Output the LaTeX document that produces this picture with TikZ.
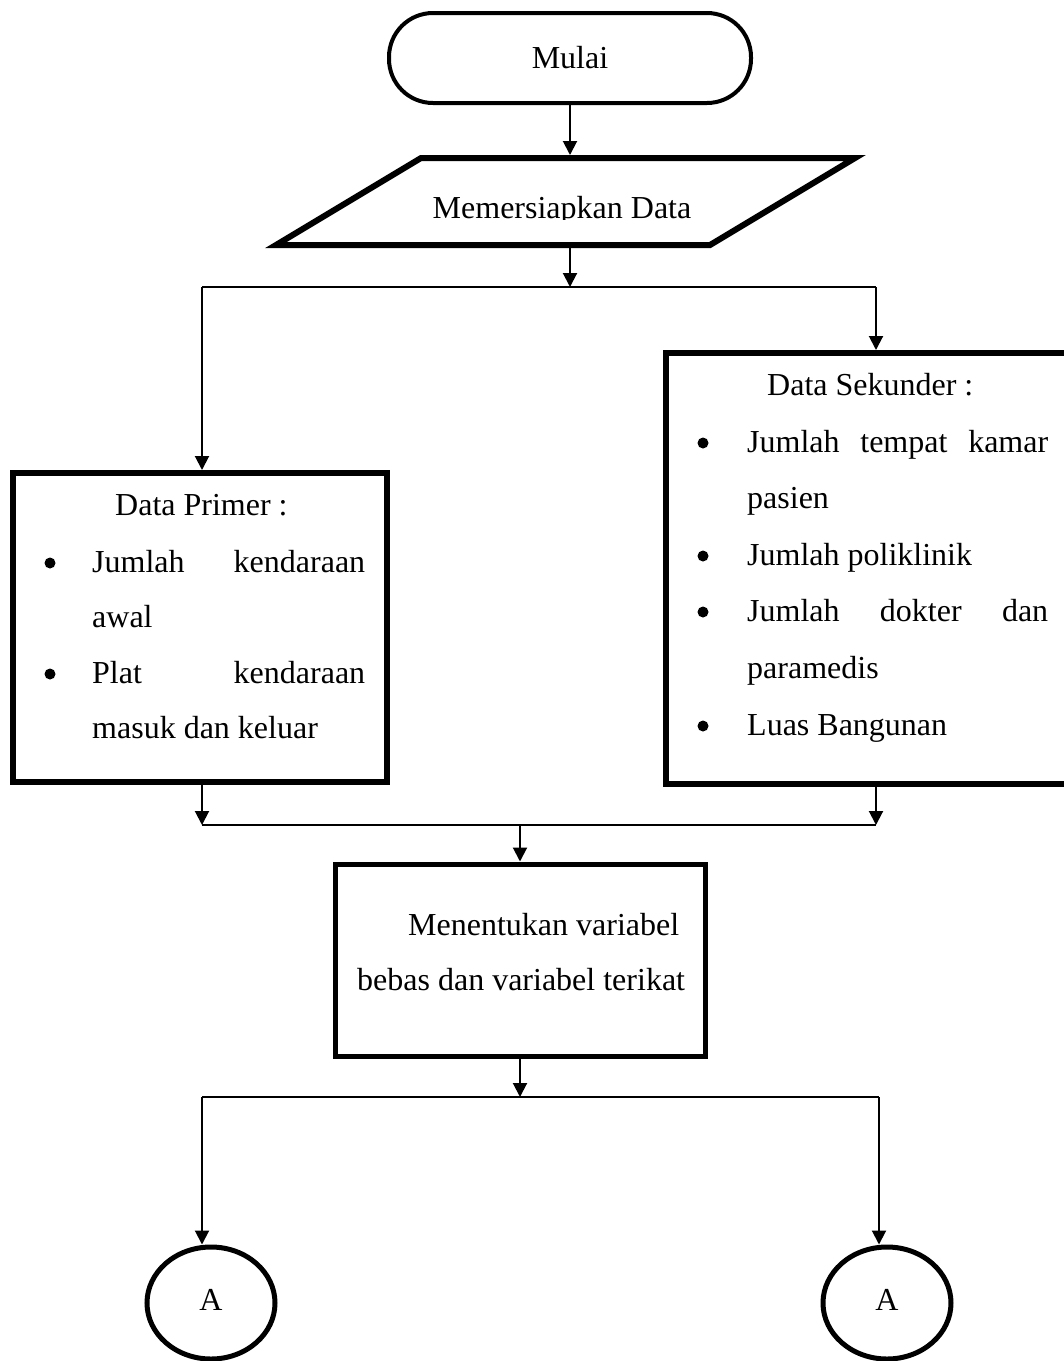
\documentclass[tikz,border=0pt]{standalone}
\usepackage{fontspec}
\setmainfont{Liberation Serif}
\usetikzlibrary{arrows.meta,shapes.geometric}
\begin{document}
\begin{tikzpicture}[x=1pt,y=-1pt,
  conn/.style={line width=2pt},
  arr/.style={line width=2pt,-{Triangle[length=14pt,width=14pt]}},
  txt/.style={inner sep=0pt,anchor=base west,font=\fontsize{32}{40}\selectfont},
  bul/.style={inner sep=0pt,anchor=base,font=\fontsize{32}{40}\selectfont},
  dot/.style={circle,fill,draw=none,inner sep=0pt,minimum size=11pt},
  bigbox/.style={draw,rectangle,line width=6pt,inner sep=0pt},
  procbox/.style={draw,rectangle,line width=5pt,inner sep=0pt},
  term/.style={draw,rectangle,rounded corners=44pt,line width=4pt,inner sep=0pt,font=\fontsize{32}{40}\selectfont},
  conbox/.style={draw,ellipse,line width=5pt,inner sep=0pt,minimum width=128pt,minimum height=112pt,font=\fontsize{32}{40}\selectfont}
]
\useasboundingbox (0,0) rectangle (1064,1361);
\clip (0,0) rectangle (1064,1361);

% start
\node[term,minimum width=362pt,minimum height=90pt] (start) at (570,58) {Mulai};

% input (parallelogram)
\draw[line width=6pt,line join=miter] (421,158) -- (855,158) -- (710,245) -- (276,245) -- cycle;
\node[inner sep=0pt,outer sep=3pt,minimum width=434pt,minimum height=87pt] (input) at (566,201.5) {};
\begin{scope}
\clip (0,0) rectangle (1064,219);
\node[bul] (tin) at (562,218) {Memersiapkan Data};
\end{scope}

% data primer
\node[bigbox,minimum width=374pt,minimum height=309pt] (primer) at (200,627.5) {};
\node[txt] (p0) at (115,515) {Data Primer :};
\node[dot] (pb1) at (50,563) {};
\node[txt] (p1) at (92,572) {\hbox to 273pt{Jumlah\hfill kendaraan}};
\node[txt] (p2) at (92,627) {awal};
\node[dot] (pb2) at (50,674) {};
\node[txt] (p3) at (92,683) {\hbox to 273pt{Plat\hfill kendaraan}};
\node[txt] (p4) at (92,738) {masuk dan keluar};

% data sekunder
\node[bigbox,minimum width=424pt,minimum height=431pt] (sekunder) at (878,568.5) {};
\node[txt] (s0) at (767,395) {Data Sekunder :};
\node[dot] (sb1) at (703,443) {};
\node[txt] (s1) at (747,452) {\hbox to 301pt{Jumlah\hfill tempat\hfill kamar}};
\node[txt] (s2) at (747,508) {pasien};
\node[dot] (sb2) at (703,556) {};
\node[txt] (s3) at (747,565) {Jumlah poliklinik};
\node[dot] (sb3) at (703,612) {};
\node[txt] (s4) at (747,621) {\hbox to 301pt{Jumlah\hfill dokter\hfill dan}};
\node[txt] (s5) at (747,678) {paramedis};
\node[dot] (sb4) at (703,726) {};
\node[txt] (s6) at (747,735) {Luas Bangunan};

% process
\node[procbox,minimum width=370pt,minimum height=192pt] (proses) at (520,960) {};
\node[txt] (m1) at (408,935) {Menentukan variabel};
\node[txt] (m2) at (357,990) {bebas dan variabel terikat};

% connectors
\node[conbox] (cl) at (211,1303) {\raisebox{6pt}{A}};
\node[conbox] (cr) at (887,1303) {\raisebox{6pt}{A}};

% junction coordinates
\coordinate (j1) at (570,287);
\coordinate (j1l) at (202,287);
\coordinate (j1r) at (876,287);
\coordinate (j2l) at (202,825);
\coordinate (j2r) at (876,825);
\coordinate (j2m) at (520,825);
\coordinate (j3) at (520,1097);
\coordinate (j3l) at (202,1097);
\coordinate (j3r) at (879,1097);

\draw[arr] (start.south) -- (input.north -| start.south);
\draw[arr] (input.south -| j1) -- (j1);
\draw[conn] (j1l) -- (j1r);
\draw[arr] (j1l) -- (j1l |- primer.north);
\draw[arr] (j1r) -- (j1r |- sekunder.north);
\draw[arr] (primer.south -| j2l) -- (j2l);
\draw[arr] (sekunder.south -| j2r) -- (j2r);
\draw[conn] (j2l) -- (j2r);
\draw[arr] (j2m) -- (proses.north);
\draw[arr] (proses.south) -- (j3);
\draw[conn] (j3l) -- (j3r);
\draw[arr] (j3l) -- (j3l |- cl.north);
\draw[arr] (j3r) -- (j3r |- cr.north);
\end{tikzpicture}
\end{document}
